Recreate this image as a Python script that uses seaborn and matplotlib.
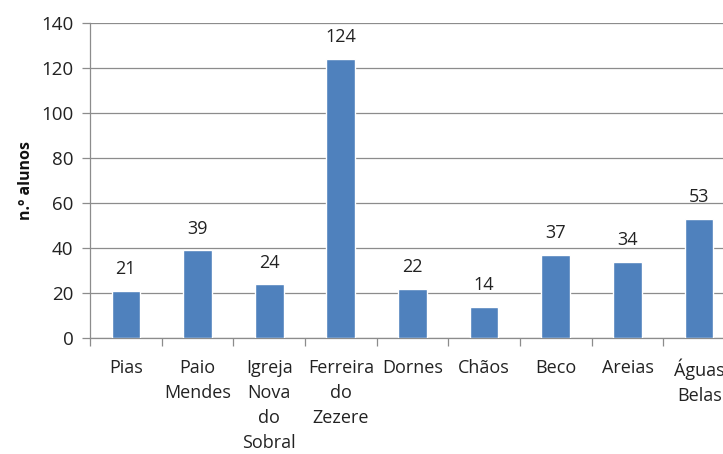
import matplotlib
matplotlib.use("Agg")
import matplotlib.pyplot as plt
import seaborn as sns
import pandas as pd
from matplotlib.ticker import FixedLocator

categories = ["Pias", "Paio\nMendes", "Igreja\nNova\ndo\nSobral", "Ferreira\ndo\nZezere",
              "Dornes", "Chãos", "Beco", "Areias", "Águas\nBelas"]
values = [21, 39, 24, 124, 22, 14, 37, 34, 53]
yticks = [0, 20, 40, 60, 80, 100, 120, 140]
ylabel = "n.º alunos"

df = pd.DataFrame({"cat": categories, "val": values})

sns.set_theme(style="white")
plt.rcParams["font.family"] = ["Open Sans", "DejaVu Sans"]

fig = plt.figure(figsize=(7.23, 4.54), dpi=100)
ax = fig.add_axes([90/723, 1-338/454, 645/723, 315/454])

sns.barplot(data=df, x="cat", y="val", color="#4F81BD", width=0.4, saturation=1,
            ax=ax, zorder=3)

ax.set_ylim(0, 140)
ax.set_xlim(-0.5, len(categories) - 0.5)
ax.set_yticks(yticks)
ax.set_yticklabels([str(t) for t in yticks], fontsize=13.5, color="#222222")
ax.yaxis.grid(True, color="#8c8c8c", linewidth=0.9, zorder=0)
ax.set_axisbelow(True)

# category labels
ax.set_xticks(range(len(categories)))
ax.set_xticklabels(categories, fontsize=13, color="#222222", va="top")
for lab in ax.get_xticklabels():
    lab.set_linespacing(1.5)
ax.tick_params(axis="x", which="major", length=0, pad=15)
ax.xaxis.set_minor_locator(FixedLocator([i - 0.5 for i in range(len(categories) + 1)]))
ax.tick_params(axis="x", which="minor", length=6, width=0.9, color="#8c8c8c",
               direction="out", bottom=True)
ax.tick_params(axis="y", length=6, width=0.9, color="#8c8c8c", direction="out",
               left=True, pad=6)

for s in ["top", "right"]:
    ax.spines[s].set_visible(False)
for s in ["left", "bottom"]:
    ax.spines[s].set_color("#8c8c8c")
    ax.spines[s].set_linewidth(0.9)

ax.set_xlabel("")
ax.set_ylabel(ylabel, fontsize=11.5, fontweight="bold", color="#111111", labelpad=5)

for p, v in zip(ax.patches, values):
    ax.annotate(str(v), (p.get_x() + p.get_width() / 2, p.get_height()),
                xytext=(0, 9), textcoords="offset points", ha="center", va="bottom",
                fontsize=13, color="#222222")

fig.savefig("out.png", dpi=100)
